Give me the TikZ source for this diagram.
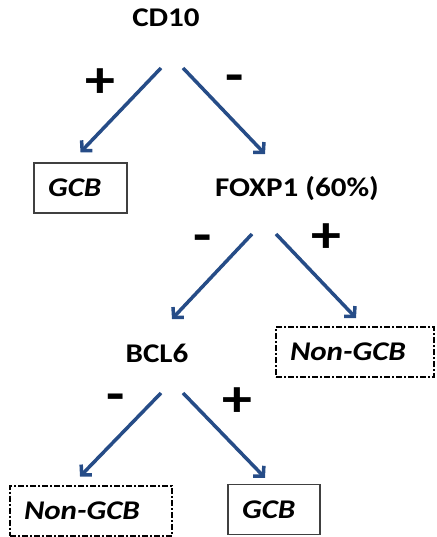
\documentclass[tikz,border=0pt]{standalone}
\usepackage{fontspec}
\setmainfont{Carlito}[FakeStretch=1.15]
\usetikzlibrary{arrows.meta}
\usetikzlibrary{calc}
\definecolor{arrowblue}{RGB}{38,76,135}
\tikzset{marker/.style={ % Sets the properties for each test node
font=\bfseries\fontsize{27}{30}\selectfont},
leaf/.style={ % Sets the properties for each result box
draw, align=left, inner xsep=14pt, minimum height=50pt,
font=\bfseries\itshape\fontsize{27}{30}\selectfont},
gcbbox/.style={leaf, draw=black!75, line width=1.5pt},
nongcbbox/.style={leaf, line width=2pt,
dash pattern=on 6pt off 2pt on 2pt off 2pt},
sign/.style={font=\bfseries\fontsize{52}{56}\selectfont,
text height=0.55em, text depth=0pt, inner sep=0pt},
arr/.style={ % Sets the properties for each branch
draw=arrowblue, line width=3.5pt,
-{Straight Barb[length=7pt,width=15pt]}}}

\begin{document}
\begin{tikzpicture}[x=1pt,y=-1pt]
\useasboundingbox (0,0) rectangle (436,537);
\node[marker] (cd10) at (166,18) {CD10};
\node[gcbbox, text width=65pt] (gcbA) at (80.5,188) {GCB};
\node[marker] (foxp1) at (297,189) {FOXP1 (60\%)};
\node[marker] (bcl6) at (157,353) {BCL6};
\node[nongcbbox, text width=130pt] (nongcbA) at (355,352) {Non-GCB};
\node[nongcbbox, text width=134pt] (nongcbB) at (91,510.5) {Non-GCB};
\node[gcbbox, text width=64pt] (gcbB) at (274,509.5) {GCB};
\draw[arr] ($(cd10)+(-5,50)$) -- node[sign, at start, xshift=-61pt, yshift=-27pt] {+} ($(gcbA.north)+(0,-10)$);
\draw[arr] ($(cd10)+(17,50)$) -- node[sign, at start, xshift=52pt, yshift=-22pt] {-} ($(foxp1)+(-32,-35)$);
\draw[arr] ($(foxp1)+(-45,45)$) -- node[sign, at start, xshift=-49pt, yshift=-16pt] {-} ($(bcl6)+(15,-34)$);
\draw[arr] ($(foxp1)+(-21,45)$) -- node[sign, at start, xshift=50pt, yshift=-16pt] {+} ($(nongcbA.north)+(1,-8)$);
\draw[arr] ($(bcl6)+(4,40)$) -- node[sign, at start, xshift=-45pt, yshift=-16pt] {-} ($(nongcbB.north)+(-11,-8)$);
\draw[arr] ($(bcl6)+(26,40)$) -- node[sign, at start, xshift=54pt, yshift=-21pt] {+} ($(gcbB.north)+(-9,-6)$);
\end{tikzpicture}
\end{document}
